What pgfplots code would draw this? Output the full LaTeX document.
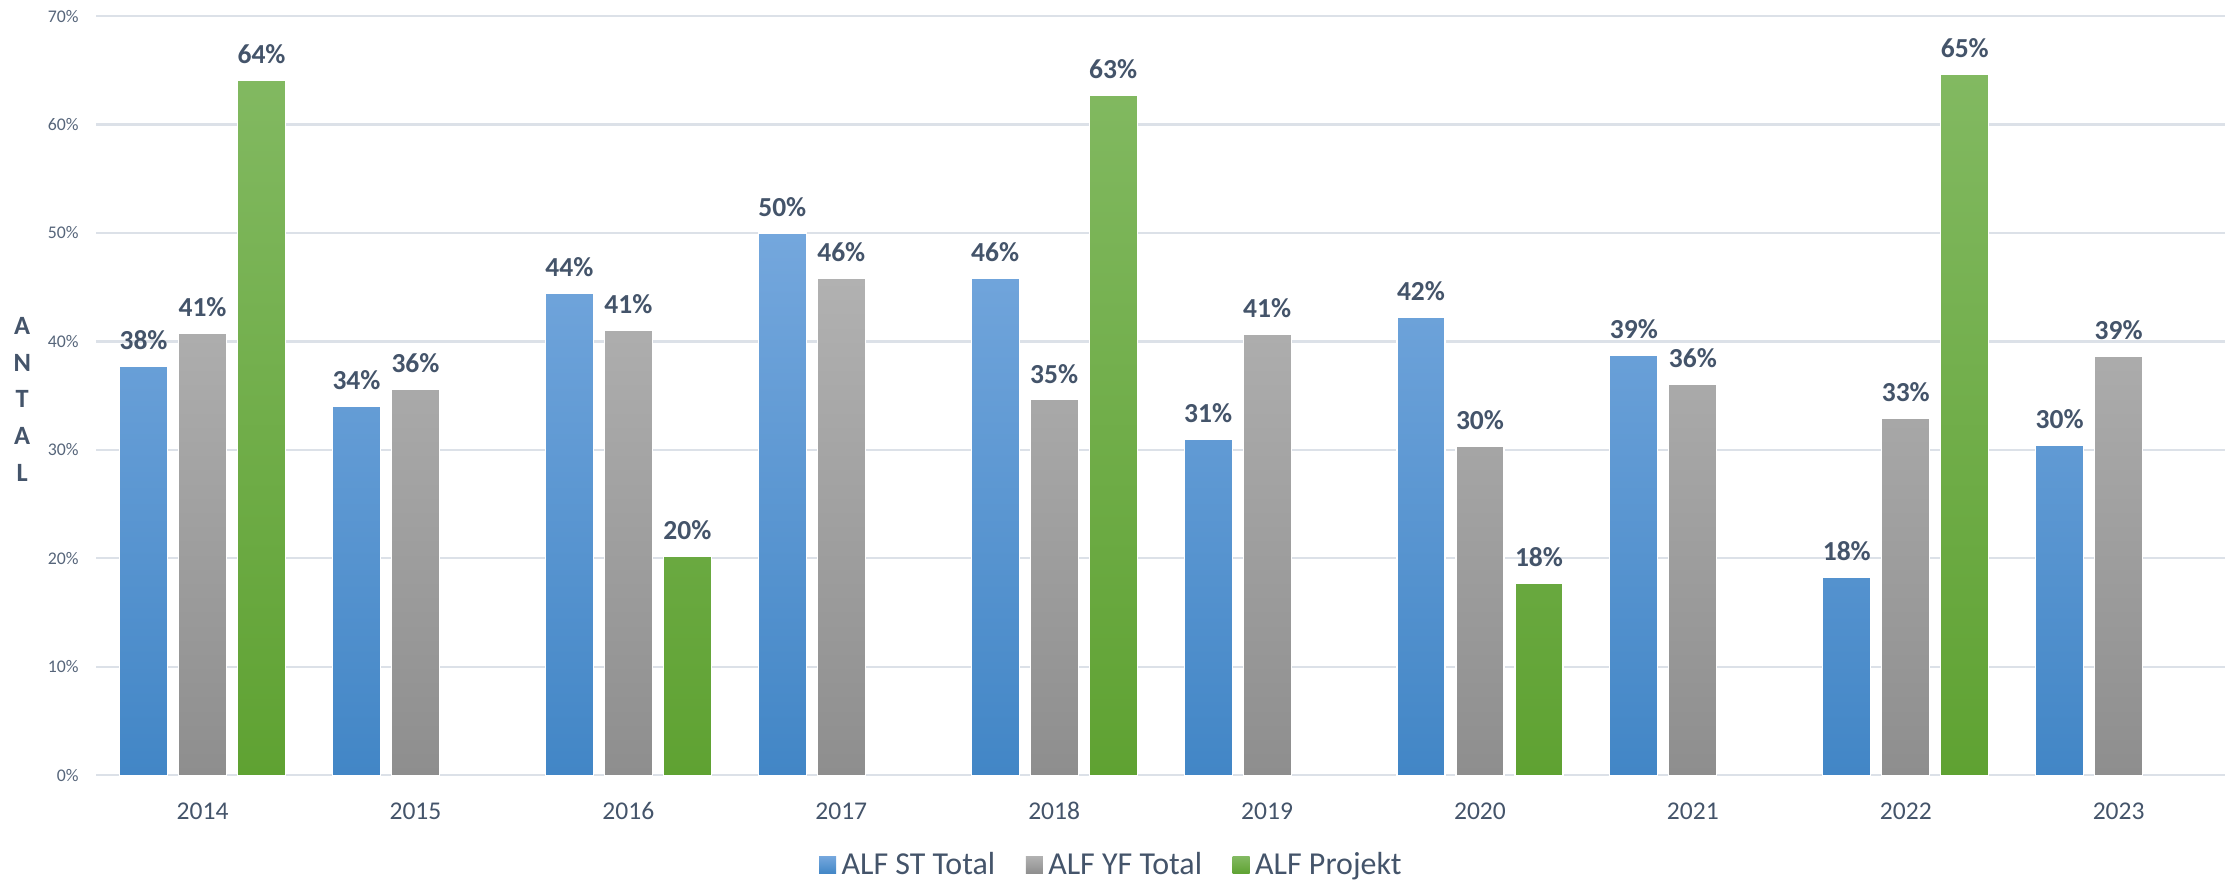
\documentclass[border=0pt]{standalone}
\usepackage{pgfplots}
\pgfplotsset{compat=1.18}
\usepackage{fontspec}
\setmainfont{Carlito}
\definecolor{txt}{HTML}{44546A}
\definecolor{tickc}{HTML}{56657A}
\definecolor{gridc}{HTML}{DCE1E8}
\definecolor{bluetop}{HTML}{74A7DD}
\definecolor{bluebot}{HTML}{4286C6}
\definecolor{graytop}{HTML}{B1B1B1}
\definecolor{graybot}{HTML}{8E8E8E}
\definecolor{greentop}{HTML}{82B961}
\definecolor{greenbot}{HTML}{5FA232}
\begin{document}
\begin{tikzpicture}
\path[use as bounding box] (-34.6pt,-37.8pt) rectangle (767.8pt,279pt);
\begin{axis}[
  at={(0pt,0pt)}, anchor=south west,
  scale only axis, width=766.4pt, height=273.2pt,
  ybar=3.96pt, bar width=17.28pt,
  xmin=-0.5, xmax=9.5, ymin=0, ymax=70,
  xtick={0,...,9},
  xticklabels={2014,2015,2016,2017,2018,2019,2020,2021,2022,2023},
  ytick={0,10,...,70},
  yticklabel={\pgfmathprintnumber{\tick}\%},
  /pgf/number format/assume math mode=true,
  axis line style={draw=none},
  ymajorgrids,
  major grid style={draw=gridc, line width=0.8pt},
  major tick length=0pt,
  tick style={draw=none},
  yticklabel style={font=\fontsize{6.4}{7}\selectfont, text=tickc, inner sep=0pt, anchor=east, xshift=-6.1pt},
  xticklabel style={font=\fontsize{9.2}{10}\selectfont, text=txt, inner sep=0pt, anchor=center, yshift=-13pt},
  ylabel={A\\N\\T\\A\\L},
  ylabel style={rotate=-90, align=center, font=\bfseries\fontsize{9.5}{13.2}\selectfont, text=txt, at={(rel axis cs:0,0.495)}, anchor=center, xshift=-26.6pt},
  nodes near coords={\pgfmathprintnumber[fixed,precision=0]{\pgfplotspointmeta}\%},
  nodes near coords style={font=\bfseries\fontsize{9.9}{11}\selectfont, text=txt, inner sep=0pt, anchor=south, yshift=5.8pt},
  clip=false,
  legend style={at={(0.4777,-0.1186)}, anchor=center, draw=none, fill=none, legend columns=3,
    font=\fontsize{11.5}{13}\selectfont, text=txt,
    /tikz/every even column/.append style={column sep=9pt}},
  legend image code/.code={\path[#1, draw=none] (0pt,-3.05pt) rectangle (6.1pt,3.05pt);},
]
\addplot[top color=bluetop, bottom color=bluebot, draw=white, line width=0.4pt]
  coordinates {(0,37.7)(1,34.0)(2,44.4)(3,50.0)(4,45.8)(5,31.0)(6,42.2)(7,38.7)(8,18.2)(9,30.4)};
\addlegendentry{ALF ST Total}
\addplot[top color=graytop, bottom color=graybot, draw=white, line width=0.4pt]
  coordinates {(0,40.7)(1,35.6)(2,41.0)(3,45.8)(4,34.6)(5,40.6)(6,30.3)(7,36.0)(8,32.9)(9,38.6)};
\addlegendentry{ALF YF Total}
\addplot[top color=greentop, bottom color=greenbot, draw=white, line width=0.4pt]
  coordinates {(0,64.1)(2,20.2)(4,62.7)(6,17.7)(8,64.6)};
\addlegendentry{ALF Projekt}
\end{axis}
\end{tikzpicture}
\end{document}
